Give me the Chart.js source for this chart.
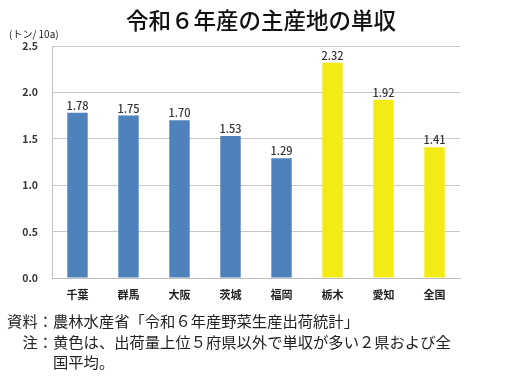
<!DOCTYPE html>
<html lang="ja">
<head>
<meta charset="utf-8">
<script src="https://cdn.jsdelivr.net/npm/chart.js@4/dist/chart.umd.min.js"></script>
<style>
  html, body { margin: 0; padding: 0; background: #fff; }
  #wrap { position: relative; width: 520px; height: 378px; font-family: "Noto Sans CJK JP", "Noto Sans", sans-serif; color: #222; }
  #chart { position: absolute; left: 0; top: 0; }
  .title { position: absolute; left: 0; width: 522px; top: 3px; text-align: center; font-size: 22.5px; font-weight: 500; color: #111; }
  .unit { position: absolute; left: 9px; top: 26px; font-size: 10px; color: #222; }
  .note { position: absolute; left: 0; font-size: 15.3px; line-height: 20px; color: #222; white-space: nowrap; }
  .note .lbl { display: inline-block; width: 53px; text-align: right; }
</style>
</head>
<body>
<div id="wrap">
  <canvas id="chart" width="520" height="378"></canvas>
  <div class="title">令和６年産の主産地の単収</div>
  <div class="unit">(トン/ 10a)</div>
  <div class="note" style="top:310px"><span class="lbl">資料：</span>農林水産省「令和６年産野菜生産出荷統計」</div>
  <div class="note" style="top:331px"><span class="lbl">注：</span>黄色は、出荷量上位５府県以外で単収が多い２県および全</div>
  <div class="note" style="top:351px"><span class="lbl"></span>国平均。</div>
</div>
<script>
// 単収 (トン/10a)
const categories = ["千葉", "群馬", "大阪", "茨城", "福岡", "栃木", "愛知", "全国"];
const yields = [1.78, 1.75, 1.70, 1.53, 1.29, 2.32, 1.92, 1.41];
const highlighted = [false, false, false, false, false, true, true, true];
const yTicks = [0, 0.5, 1.0, 1.5, 2.0, 2.5];

const BLUE = "#4f81bd", YELLOW = "#f5eb14";
const FONT = "'Noto Sans CJK JP', 'Noto Sans', sans-serif";

const valueLabels = {
    id: "valueLabels",
    afterDatasetsDraw(chart) {
        const ctx = chart.ctx;
        const meta = chart.getDatasetMeta(0);
        ctx.save();
        ctx.font = "500 11px " + FONT;
        ctx.fillStyle = "#333";
        ctx.textAlign = "center";
        ctx.textBaseline = "middle";
        meta.data.forEach((bar, i) => {
            ctx.fillText(yields[i].toFixed(2), bar.x, bar.y - 7);
        });
        ctx.restore();
    }
};

new Chart(document.getElementById("chart"), {
    type: "bar",
    data: {
        labels: categories,
        datasets: [{
            data: yields,
            backgroundColor: highlighted.map(h => h ? YELLOW : BLUE),
            categoryPercentage: 1,
            barPercentage: 0.4
        }]
    },
    options: {
        responsive: false,
        animation: false,
        layout: { padding: { top: 46, right: 60, bottom: 70, left: 0 } },
        plugins: { legend: { display: false }, tooltip: { enabled: false } },
        scales: {
            x: {
                afterFit: (s) => { s.height = 30; },
                grid: { display: false, drawTicks: false },
                border: { color: "#bfbfbf" },
                ticks: { padding: 10, color: "#222", font: { size: 11, weight: "bold", family: FONT } }
            },
            y: {
                min: 0, max: 2.5,
                afterFit: (s) => { s.width = 52; },
                afterBuildTicks: (s) => { s.ticks = yTicks.map(v => ({ value: v })); },
                grid: { color: "#c8c8c8", drawTicks: false },
                border: { color: "#bfbfbf" },
                ticks: {
                    padding: 14, color: "#333",
                    font: { size: 10.5, weight: "bold", family: FONT },
                    callback: (v) => v.toFixed(1)
                }
            }
        }
    },
    plugins: [valueLabels]
});
</script>
</body>
</html>
